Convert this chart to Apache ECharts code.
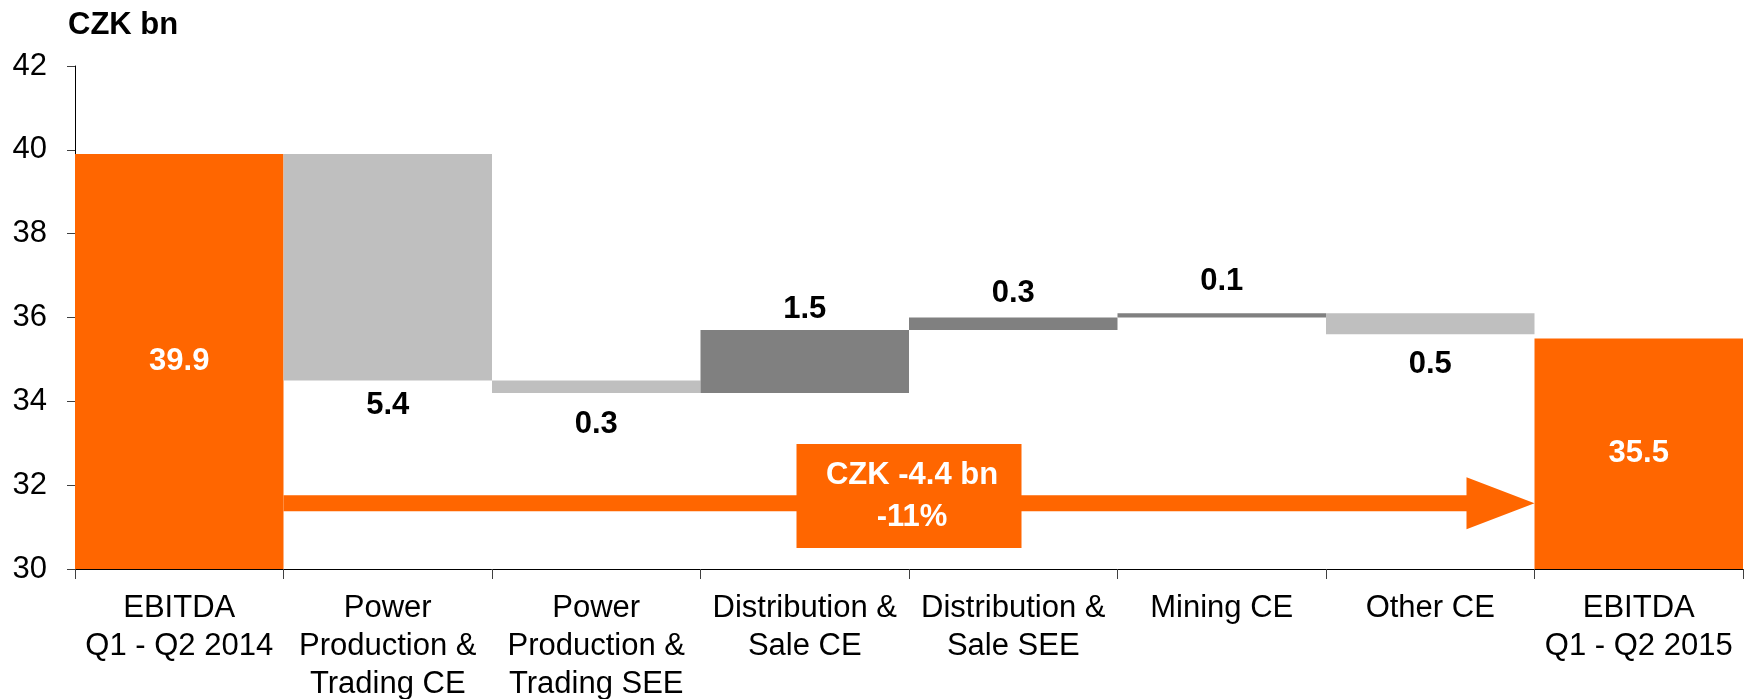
<!DOCTYPE html>
<html>
<head>
<meta charset="utf-8">
<script src="https://cdn.jsdelivr.net/npm/echarts@6/dist/echarts.min.js"></script>
<style>
  html, body { margin: 0; padding: 0; background: #fff; }
  #chart { width: 1752px; height: 699px; }
</style>
</head>
<body>
<div id="chart"></div>
<script>
// EBITDA bridge, CZK bn
const categories = [
  'EBITDA\nQ1 - Q2 2014',
  'Power\nProduction &\nTrading CE',
  'Power\nProduction &\nTrading SEE',
  'Distribution &\nSale CE',
  'Distribution &\nSale SEE',
  'Mining CE',
  'Other CE',
  'EBITDA\nQ1 - Q2 2015'
];
const startValue = 39.9;
const changes = [-5.4, -0.3, 1.5, 0.3, 0.1, -0.5];
const endValue = 35.5;
const totalChangeText = 'CZK -4.4 bn';
const pctChangeText = '-11%';
const yMin = 30, yMax = 42, yStep = 2;

const ORANGE = '#FF6600';
const LIGHT = '#BFBFBF';
const DARK = '#808080';
const FONT = '"Liberation Sans", Arial, sans-serif';
const FS = 31;

// Gap between each step bar and its value label (px)
const labelGap = [0, 10, 16, 5, 9, 16, 15, 0];

// Build the invisible base and the visible segment of each waterfall step
const base = [0];
const shown = [{ value: startValue, kind: 'total' }];
let running = startValue;
changes.forEach(c => {
  if (c < 0) {
    base.push(running + c);
    shown.push({ value: -c, kind: 'down' });
  } else {
    base.push(running);
    shown.push({ value: c, kind: 'up' });
  }
  running += c;
});
base.push(0);
shown.push({ value: endValue, kind: 'total' });

const labelFor = (kind, i) => {
  if (kind === 'total') {
    return { show: true, position: 'inside', color: '#fff', fontWeight: 'bold', fontSize: FS, fontFamily: FONT };
  }
  return {
    show: true,
    position: kind === 'down' ? 'bottom' : 'top',
    distance: labelGap[i],
    color: '#000', fontWeight: 'bold', fontSize: FS, fontFamily: FONT
  };
};
const colorFor = kind => kind === 'total' ? ORANGE : (kind === 'down' ? LIGHT : DARK);

const stepData = shown.map((s, i) => ({
  value: s.value,
  itemStyle: { color: colorFor(s.kind) },
  label: labelFor(s.kind, i)
}));

// Overall change arrow and its callout box, in axis units
const arrowLevel = 31.57;
const boxLow = 30.5, boxHigh = 32.98;

const chart = echarts.init(document.getElementById('chart'), null, { renderer: 'canvas' });
chart.setOption({
  animation: false,
  backgroundColor: '#fff',
  title: {
    text: 'CZK bn',
    left: 68, top: 10, padding: 0,
    textStyle: { fontFamily: FONT, fontWeight: 'bold', fontSize: FS, color: '#000' }
  },
  grid: { left: 75, right: 9, top: 66, bottom: 130, containLabel: false, outerBoundsMode: 'none' },
  xAxis: {
    type: 'category',
    data: categories,
    axisLine: { show: true, lineStyle: { color: '#000', width: 1 } },
    axisTick: { show: true, alignWithLabel: false, length: 10, lineStyle: { color: '#404040' } },
    axisLabel: {
      interval: 0, margin: 20, color: '#000',
      fontFamily: FONT, fontSize: FS, lineHeight: 38
    },
    splitLine: { show: false }
  },
  yAxis: {
    type: 'value',
    min: yMin, max: yMax, interval: yStep,
    axisLine: { show: true, lineStyle: { color: '#000', width: 1 } },
    axisTick: { show: true, length: 8, lineStyle: { color: '#404040' } },
    axisLabel: { margin: 28, color: '#000', fontFamily: FONT, fontSize: FS },
    splitLine: { show: false }
  },
  series: [
    {
      name: 'base', type: 'bar', stack: 'bridge',
      data: base,
      itemStyle: { color: 'transparent' },
      barCategoryGap: '0%', clip: true, silent: true
    },
    {
      name: 'step', type: 'bar', stack: 'bridge',
      data: stepData,
      barCategoryGap: '0%', clip: true
    },
    {
      name: 'change', type: 'custom',
      data: [[0, arrowLevel]],
      z: 5,
      renderItem: (params, api) => {
        const w = api.size([1, 0])[0];
        const y = api.coord([0, arrowLevel])[1];
        const x0 = api.coord([0, arrowLevel])[0] + w / 2;
        const x1 = api.coord([categories.length - 1, arrowLevel])[0] - w / 2;
        const shaftHalf = 8, headLen = 68, headHalf = 26;
        const boxCx = api.coord([3, arrowLevel])[0] + w / 2;
        const boxW = 225;
        const yTop = api.coord([0, boxHigh])[1];
        const yBot = api.coord([0, boxLow])[1];
        return {
          type: 'group',
          children: [
            {
              type: 'polygon',
              shape: {
                points: [
                  [x0, y - shaftHalf], [x1 - headLen, y - shaftHalf], [x1 - headLen, y - headHalf],
                  [x1, y], [x1 - headLen, y + headHalf], [x1 - headLen, y + shaftHalf], [x0, y + shaftHalf]
                ]
              },
              style: { fill: ORANGE }
            },
            {
              type: 'rect',
              shape: { x: boxCx - boxW / 2, y: yTop, width: boxW, height: yBot - yTop },
              style: { fill: ORANGE }
            },
            {
              type: 'text',
              x: boxCx + 3, y: (yTop + yBot) / 2,
              style: {
                text: totalChangeText + '\n' + pctChangeText,
                fill: '#fff', align: 'center', verticalAlign: 'middle',
                font: 'bold ' + FS + 'px ' + FONT, lineHeight: 42
              }
            }
          ]
        };
      }
    }
  ]
});
</script>
</body>
</html>
